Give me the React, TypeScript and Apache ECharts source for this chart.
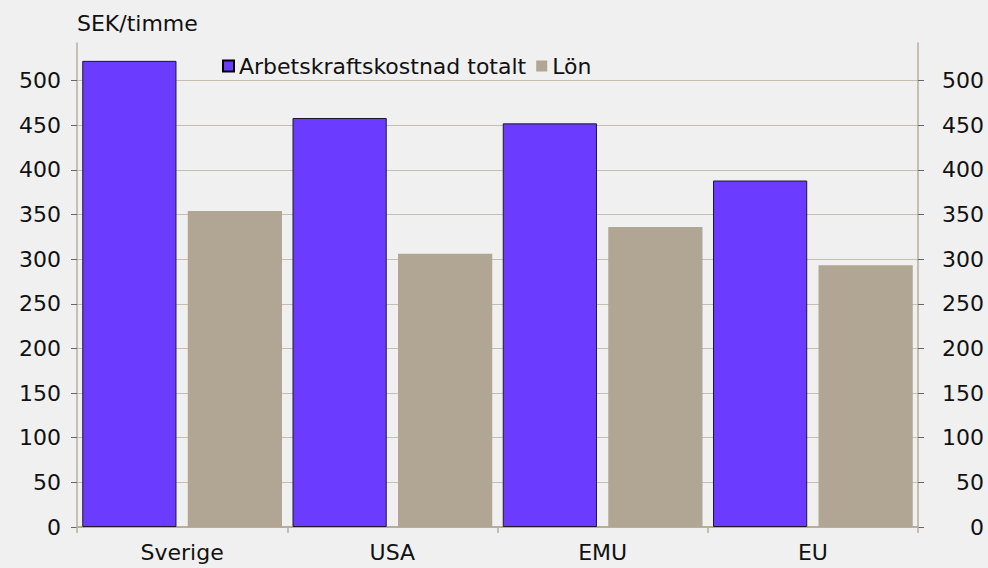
import React, { useEffect, useRef } from "react";
import * as echarts from "echarts";

const categories = ["Sverige", "USA", "EMU", "EU"];
const totalCost = [522, 458, 452, 388];
const wage = [354, 306, 336, 293];
const yTicks = [0, 50, 100, 150, 200, 250, 300, 350, 400, 450, 500];
const seriesNames = ["Arbetskraftskostnad totalt", "Lön"];
const unitLabel = "SEK/timme";

const FONT = "'DejaVu Sans', sans-serif";
const FS = 22;
const AXIS_COLOR = "#b9ae9d";
const GRID_COLOR = "#c8beb0";

export default function App() {
  const ref = useRef<HTMLDivElement>(null);
  useEffect(() => {
    if (!ref.current) return;
    const chart = echarts.init(ref.current, null, { renderer: "svg" });
    const yAxisBase = (pos: "left" | "right") => ({
      type: "value",
      position: pos,
      min: 0,
      max: 542,
      interval: 50,
      axisLine: { show: true, lineStyle: { color: AXIS_COLOR, width: 1.5 } },
      axisTick: {
        show: true,
        length: 6,
        inside: false,
        customValues: yTicks,
        lineStyle: { color: "#666", width: 1 },
      },
      axisLabel: {
        customValues: yTicks,
        color: "#111",
        fontFamily: FONT,
        fontSize: FS,
        align: "right",
        margin: pos === "left" ? 16 : 66,
      },
      splitLine: {
        show: pos === "left",
        lineStyle: { color: GRID_COLOR, width: 1 },
      },
    });
    chart.setOption({
      animation: false,
      backgroundColor: "#f0f0f0",
      textStyle: { fontFamily: FONT },
      title: {
        text: unitLabel,
        left: 77,
        top: 12,
        padding: 0,
        textStyle: { fontFamily: FONT, fontSize: FS, fontWeight: "normal", color: "#111" },
      },
      legend: {
        left: 222,
        top: 55,
        padding: 0,
        itemWidth: 11,
        itemHeight: 11,
        itemGap: 10,
        textStyle: { fontFamily: FONT, fontSize: FS, color: "#111" },
        data: [
          { name: seriesNames[0], icon: "rect", itemStyle: { color: "#6b3cff", borderColor: "#000", borderWidth: 2 } },
          { name: seriesNames[1], icon: "rect", itemStyle: { color: "#b1a594", borderWidth: 0 } },
        ],
      },
      grid: { left: 77, right: 70, top: 43, bottom: 41, containLabel: false },
      xAxis: {
        type: "category",
        data: categories,
        axisLine: { show: true, lineStyle: { color: AXIS_COLOR, width: 2 } },
        axisTick: { show: true, length: 6, lineStyle: { color: AXIS_COLOR, width: 1.5 } },
        axisLabel: { color: "#111", fontFamily: FONT, fontSize: FS, margin: 14 },
        splitLine: { show: false },
      },
      yAxis: [yAxisBase("left"), yAxisBase("right")],
      series: [
        {
          name: seriesNames[0],
          type: "bar",
          data: totalCost,
          barGap: "12%",
          barCategoryGap: "5%",
          itemStyle: { color: "#6b3cff", borderColor: "#1a1a2a", borderWidth: 1 },
        },
        {
          name: seriesNames[1],
          type: "bar",
          data: wage,
          barGap: "12%",
          barCategoryGap: "5%",
          itemStyle: { color: "#b1a594" },
        },
      ],
    });
    return () => chart.dispose();
  }, []);
  return <div ref={ref} style={{ width: 988, height: 568, position: "absolute", left: 0, top: 0 }} />;
}
